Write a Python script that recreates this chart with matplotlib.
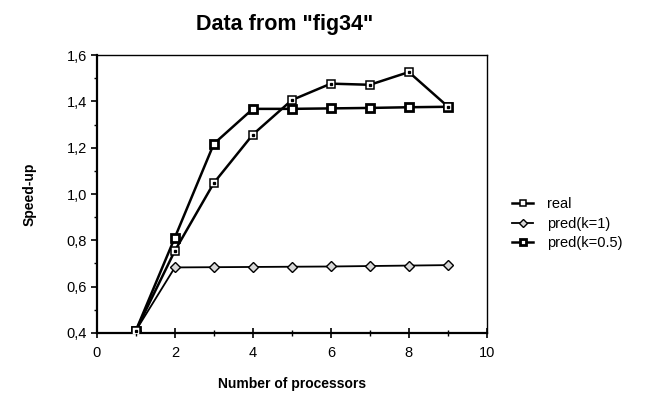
import matplotlib.pyplot as plt
from matplotlib.ticker import MultipleLocator, FuncFormatter

plt.rcParams["font.family"] = ["Liberation Sans", "DejaVu Sans"]

processors = [1, 2, 3, 4, 5, 6, 7, 8, 9]
real = [0.41, 0.755, 1.048, 1.257, 1.406, 1.477, 1.472, 1.527, 1.378]
pred_k1 = [0.41, 0.683, 0.684, 0.685, 0.686, 0.687, 0.689, 0.691, 0.693]
pred_k05 = [0.41, 0.812, 1.217, 1.368, 1.368, 1.370, 1.372, 1.375, 1.377]

fig = plt.figure(figsize=(6.5, 3.94), dpi=100)
ax = fig.add_axes([0.149, 0.155, 0.600, 0.705])

ax.plot(processors, pred_k1, color="black", lw=1.3, marker="D", ms=4.8,
        mfc="#d8d8d8", mec="black", mew=1.0, label="pred(k=1)", zorder=2)
ax.plot(processors, pred_k05, color="black", lw=1.8, marker="s", ms=5.5,
        mfc="white", mec="black", mew=2.0, label="pred(k=0.5)", zorder=3)
ax.plot(processors, real, color="black", lw=1.8, marker="s", ms=5.5,
        mfc="white", mec="black", mew=1.1, label="real", zorder=4)
# small dot inside the "real" markers
ax.plot(processors, real, ls="none", marker="s", ms=1.4, mfc="black",
        mec="black", zorder=5)

ax.set_xlim(0, 10)
ax.set_ylim(0.4, 1.6)
ax.xaxis.set_major_locator(MultipleLocator(2))
ax.xaxis.set_minor_locator(MultipleLocator(1))
ax.yaxis.set_major_locator(MultipleLocator(0.2))
ax.yaxis.set_minor_locator(MultipleLocator(0.1))
ax.yaxis.set_major_formatter(FuncFormatter(lambda v, p: f"{v:.1f}".replace(".", ",")))

ax.tick_params(axis="x", which="both", direction="inout", labelsize=10.5, pad=6)
ax.tick_params(axis="x", which="major", length=7, width=1.2)
ax.tick_params(axis="x", which="minor", length=5, width=1.0)
ax.tick_params(axis="y", which="both", direction="out", labelsize=10.5, pad=3)
ax.tick_params(axis="y", which="major", length=4, width=1.2)
ax.tick_params(axis="y", which="minor", length=2.5, width=1.0)

for side in ("left", "bottom"):
    ax.spines[side].set_linewidth(1.6)
for side in ("top", "right"):
    ax.spines[side].set_linewidth(1.0)

ax.set_xlabel("Number of processors", fontsize=10, fontweight="bold", labelpad=12)
ax.set_ylabel("Speed-up", fontsize=10, fontweight="bold", labelpad=22)
fig.suptitle('Data from "fig34"', fontsize=15.5, fontweight="bold", x=0.438, y=0.965)

handles, labels = ax.get_legend_handles_labels()
order = [2, 0, 1]
fig.legend([handles[i] for i in order], [labels[i] for i in order],
           loc="center left", bbox_to_anchor=(0.768, 0.432), frameon=False,
           fontsize=10.5, handlelength=1.4, handletextpad=1.0,
           labelspacing=0.38, markerscale=0.9)

fig.savefig("out.png", dpi=100)
